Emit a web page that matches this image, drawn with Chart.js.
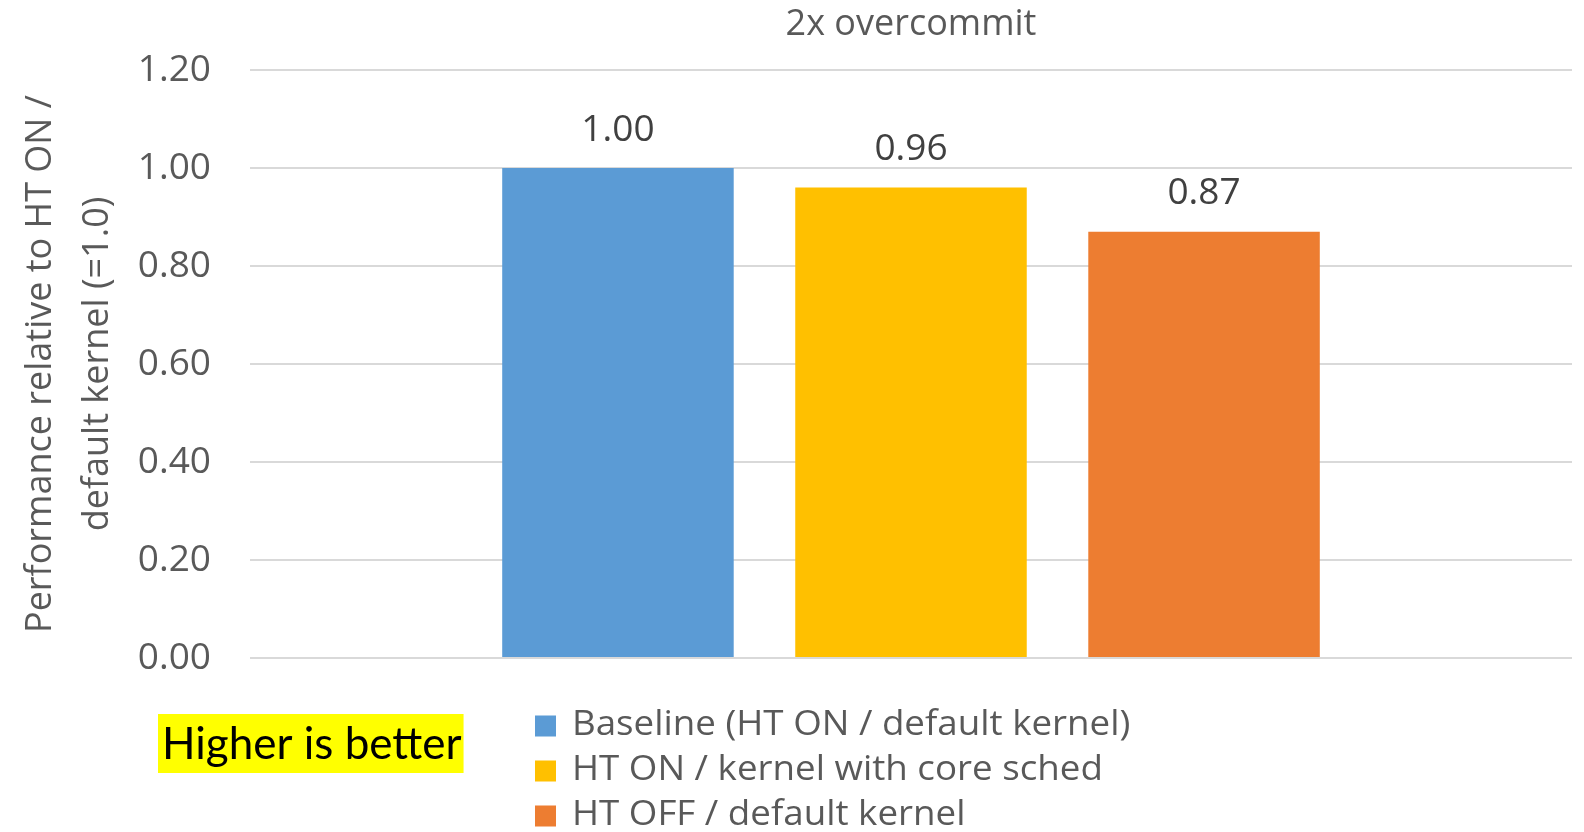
<!DOCTYPE html>
<html>
<head>
<meta charset="utf-8">
<title>2x overcommit</title>
<script src="https://cdn.jsdelivr.net/npm/chart.js@4.4.1/dist/chart.umd.min.js"></script>
<style>
  html, body { margin: 0; padding: 0; background: #ffffff; }
  #wrap { width: 1584px; height: 832px; position: relative; }
  canvas { display: block; }
</style>
</head>
<body>
<div id="wrap"><canvas id="chart" width="1584" height="832"></canvas></div>
<script>
// ---- chart data ----
const chartTitle = '2x overcommit';
const categories = [''];
const seriesNames = [
  'Baseline (HT ON / default kernel)',
  'HT ON / kernel with core sched',
  'HT OFF / default kernel'
];
const baselineValues = [1.00];
const coreSchedValues = [0.96];
const htOffValues = [0.87];
const seriesColors = ['#5B9BD5', '#FFC000', '#ED7D31'];
const yAxisTitle = ['Performance relative to HT ON /', 'default kernel (=1.0)'];
const yMin = 0, yMax = 1.2, yStep = 0.2;
const noteText = 'Higher is better';

const seriesValues = [baselineValues, coreSchedValues, htOffValues];

const TEXT_GREY = '#595959';
const LABEL_GREY = '#404040';
const SANS = '"Open Sans", "Noto Sans", sans-serif';

// Value labels above bars, chart title, stacked legend and the note box.
const decorations = {
  id: 'decorations',
  afterDatasetsDraw(chart) {
    const ctx = chart.ctx;
    ctx.save();
    ctx.font = '37px ' + SANS;
    ctx.fillStyle = LABEL_GREY;
    ctx.textAlign = 'center';
    ctx.textBaseline = 'middle';
    chart.data.datasets.forEach((ds, di) => {
      const meta = chart.getDatasetMeta(di);
      meta.data.forEach((bar, i) => {
        ctx.fillText(Number(ds.data[i]).toFixed(2), bar.x, bar.y - 38);
      });
    });
    ctx.restore();
  },
  afterDraw(chart) {
    const ctx = chart.ctx;
    const area = chart.chartArea;
    ctx.save();

    // title centred over the plot area
    ctx.font = '36px ' + SANS;
    ctx.fillStyle = TEXT_GREY;
    ctx.textAlign = 'center';
    ctx.textBaseline = 'middle';
    ctx.fillText(chartTitle, (area.left + area.right) / 2, 25);

    // legend: one entry per row, text slightly widened
    const boxX = 535, textX = 572, firstRow = 725, rowGap = 45, box = 21, widen = 1.08;
    ctx.font = '34px ' + SANS;
    ctx.textAlign = 'left';
    chart.data.datasets.forEach((ds, i) => {
      const cy = firstRow + i * rowGap;
      ctx.fillStyle = ds.backgroundColor;
      ctx.fillRect(boxX, cy - box / 2 + 1, box, box);
      ctx.save();
      ctx.translate(textX, cy);
      ctx.scale(widen, 1);
      ctx.fillStyle = TEXT_GREY;
      ctx.fillText(ds.label, 0, 0);
      ctx.restore();
    });

    // highlighted note
    ctx.font = '44px Lato, "Open Sans", sans-serif';
    const w = ctx.measureText(noteText).width;
    const nx = 162, base = 759;
    ctx.fillStyle = '#FFFF00';
    ctx.fillRect(nx - 4, 714, w + 6, 59);
    ctx.fillStyle = '#000000';
    ctx.textBaseline = 'alphabetic';
    ctx.fillText(noteText, nx, base);

    ctx.restore();
  }
};

new Chart(document.getElementById('chart'), {
  type: 'bar',
  data: {
    labels: categories,
    datasets: seriesNames.map((name, i) => ({
      label: name,
      data: seriesValues[i],
      backgroundColor: seriesColors[i],
      borderWidth: 0,
      categoryPercentage: 0.665,
      barPercentage: 0.79
    }))
  },
  options: {
    responsive: false,
    animation: false,
    layout: { padding: { top: 70, right: 12, bottom: 174, left: 0 } },
    plugins: {
      legend: { display: false },
      title: { display: false },
      tooltip: { enabled: false }
    },
    scales: {
      x: {
        display: false
      },
      y: {
        min: yMin,
        max: yMax,
        afterFit(scale) { scale.width = 250; },
        border: { display: false },
        grid: { color: '#D9D9D9', lineWidth: 2, drawTicks: false },
        ticks: {
          stepSize: yStep,
          padding: 39,
          color: TEXT_GREY,
          font: { family: SANS, size: 37 },
          callback: (v) => Number(v).toFixed(2)
        },
        title: {
          display: true,
          text: yAxisTitle,
          color: TEXT_GREY,
          font: { family: SANS, size: 36, lineHeight: 1.58 },
          padding: { top: 12, bottom: 0 }
        }
      }
    }
  },
  plugins: [decorations]
});
</script>
</body>
</html>
